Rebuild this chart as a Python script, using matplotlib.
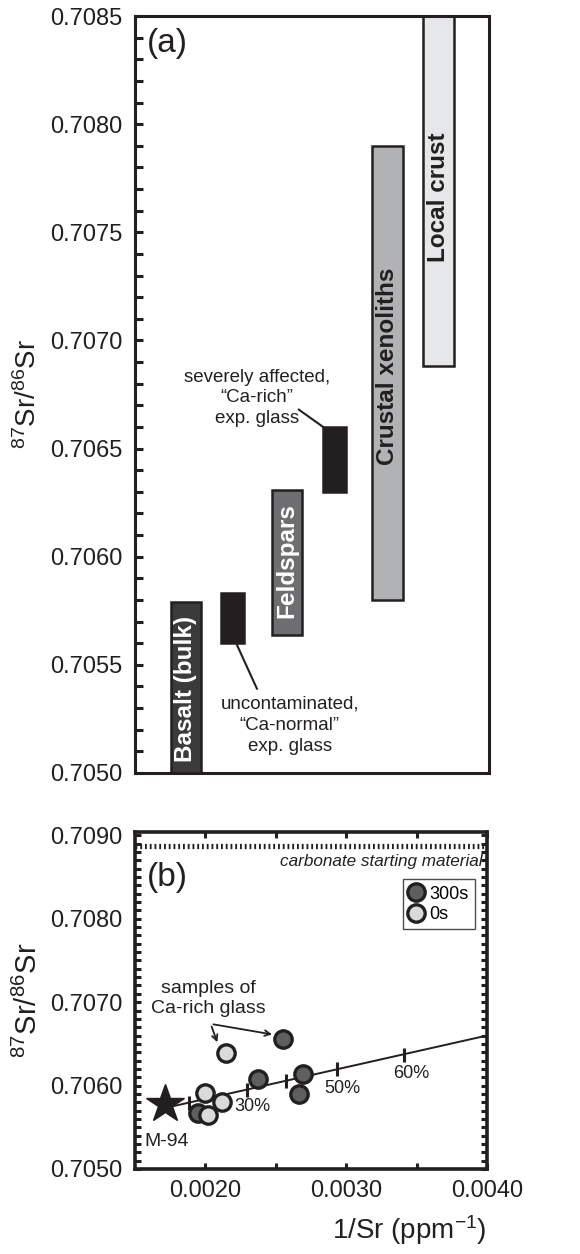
import matplotlib
matplotlib.use('Agg')
import matplotlib.pyplot as plt
from matplotlib.ticker import MultipleLocator, FormatStrFormatter, FixedLocator, FixedFormatter

plt.rcParams['font.family'] = ['Liberation Sans', 'DejaVu Sans']
plt.rcParams['mathtext.fontset'] = 'custom'
plt.rcParams['mathtext.rm'] = 'Liberation Sans'
plt.rcParams['mathtext.it'] = 'Liberation Sans:italic'

# ---- panel (a): Sr isotope ranges ----
bar_names = ['Basalt (bulk)', '', 'Feldspars', '', 'Crustal xenoliths', 'Local crust']
bar_low = [0.70500, 0.70560, 0.70564, 0.70630, 0.70580, 0.70688]
bar_high = [0.70579, 0.70583, 0.70631, 0.70660, 0.70790, 0.70850]
bar_label_y = [0.70539, 0, 0.70598, 0, 0.70688, 0.70766]
bar_colors = ['#3b3b3c', '#231f20', '#6d6e70', '#231f20', '#b1b2b4', '#e6e7e8']
bar_text_colors = ['white', 'white', 'white', 'white', '#231f20', '#231f20']
bar_pos = [1.0, 1.93, 3.0, 3.94, 5.0, 6.0]
bar_width = [0.59, 0.45, 0.59, 0.45, 0.61, 0.61]

# ---- panel (b): 87Sr/86Sr vs 1/Sr ----
x_300s = [0.002552, 0.002375, 0.002694, 0.002666, 0.001945]
y_300s = [0.706556, 0.706076, 0.706140, 0.705896, 0.705668]
x_0s = [0.002146, 0.001997, 0.002115, 0.002020]
y_0s = [0.706388, 0.705908, 0.705808, 0.705648]
m94_x, m94_y = 0.00171, 0.70578
mix_x = [0.00171, 0.00400]
mix_y = [0.70573, 0.70660]
mix_tick_x = [0.001886, 0.002292, 0.002571, 0.002936, 0.003409]
mix_tick_y = [0.705788, 0.705948, 0.706056, 0.706196, 0.706368]
pct_labels = ['30%', '50%', '60%']
pct_x = [0.002333, 0.002973, 0.003463]
pct_y = [0.705748, 0.705968, 0.706148]
carbonate_y = 0.70887

ylab = r'$\mathregular{^{87}}$Sr/$\mathregular{^{86}}$Sr'
ink = '#231f20'

fig = plt.figure(figsize=(5.8, 12.54), dpi=100)

# panel a
ax1 = fig.add_axes([0.2328, 0.3836, 0.6103, 0.6036])
for i in range(len(bar_pos)):
    ax1.bar(bar_pos[i], bar_high[i] - bar_low[i], bottom=bar_low[i], width=bar_width[i],
            color=bar_colors[i], edgecolor=ink, linewidth=1.8, zorder=2)
    if bar_names[i]:
        ax1.text(bar_pos[i], bar_label_y[i], bar_names[i], rotation=90, ha='center', va='center',
                 color=bar_text_colors[i], fontsize=17.5, fontweight='bold', zorder=3)

ax1.set_xlim(0, 7)
ax1.set_ylim(0.7050, 0.7085)
ax1.yaxis.set_major_locator(MultipleLocator(0.0005))
ax1.yaxis.set_minor_locator(MultipleLocator(0.0001))
ax1.yaxis.set_major_formatter(FormatStrFormatter('%.4f'))
ax1.set_xticks([])
ax1.tick_params(axis='y', which='both', direction='in', length=6, width=2.2,
                labelsize=17, pad=9, colors=ink)
for s in ax1.spines.values():
    s.set_linewidth(2.2)
    s.set_color(ink)
ax1.set_ylabel(ylab, fontsize=20, color=ink)
ax1.yaxis.set_label_coords(-0.262, 0.5)
ax1.text(0.034, 0.984, '(a)', transform=ax1.transAxes, fontsize=24, ha='left', va='top',
         color=ink)

ax1.text(2.41, 0.706734, 'severely affected,\n\u201cCa-rich\u201d\nexp. glass', ha='center',
         va='center', fontsize=13.5, linespacing=1.3, color=ink)
ax1.plot([3.24, 3.72], [0.70668, 0.70660], color=ink, lw=1.5)
ax1.text(3.06, 0.70522, 'uncontaminated,\n\u201cCa-normal\u201d\nexp. glass', ha='center',
         va='center', fontsize=13.5, linespacing=1.3, color=ink)
ax1.plot([2.02, 2.41], [0.70559, 0.70539], color=ink, lw=1.5)

# panel b
ax2 = fig.add_axes([0.2328, 0.0678, 0.6069, 0.2687])
ax2.axhline(carbonate_y, color=ink, lw=3.8, linestyle=(0, (0.35, 0.55)), zorder=1)
ax2.text(0.00397, 0.708688, 'carbonate starting material', ha='right', va='center',
         fontsize=12.3, style='italic', color=ink)
ax2.plot(mix_x, mix_y, color=ink, lw=1.4, zorder=2)
ax2.plot(mix_tick_x, mix_tick_y, linestyle='none', marker='|', markersize=10,
         markeredgewidth=2.2, color=ink, zorder=2)
for lab, px, py in zip(pct_labels, pct_x, pct_y):
    ax2.text(px, py, lab, ha='center', va='center', fontsize=13, color=ink)

ax2.plot(x_300s, y_300s, linestyle='none', marker='o', markersize=12.5, markerfacecolor='#5e5f61',
         markeredgecolor=ink, markeredgewidth=2.4, label='300s', zorder=3)
ax2.plot(x_0s, y_0s, linestyle='none', marker='o', markersize=12.5, markerfacecolor='#d9dadb',
         markeredgecolor=ink, markeredgewidth=2.4, label='0s', zorder=4)
ax2.plot(m94_x, m94_y, marker='*', markersize=29, color=ink, zorder=5)
ax2.text(0.001725, 0.705328, 'M-94', ha='center', va='center', fontsize=14, color=ink)

ax2.text(0.00202, 0.70704, 'samples of\nCa-rich glass', ha='center', va='center',
         fontsize=14, linespacing=1.25, color=ink)
ax2.annotate('', xy=(0.002091, 0.706488), xytext=(0.002037, 0.70674),
             arrowprops=dict(arrowstyle='->', color=ink, lw=1.3))
ax2.annotate('', xy=(0.002493, 0.706608), xytext=(0.002037, 0.70674),
             arrowprops=dict(arrowstyle='->', color=ink, lw=1.3))

ax2.set_xlim(0.0015, 0.0040)
ax2.set_ylim(0.7050, 0.70904)
ax2.xaxis.set_major_locator(FixedLocator([0.0020, 0.0030, 0.0040]))
ax2.xaxis.set_major_formatter(FixedFormatter(['0.0020', '0.0030', '0.0040']))
ax2.xaxis.set_minor_locator(FixedLocator([0.0025, 0.0035]))
ax2.yaxis.set_major_locator(MultipleLocator(0.001))
ax2.yaxis.set_minor_locator(MultipleLocator(0.0001))
ax2.yaxis.set_major_formatter(FormatStrFormatter('%.4f'))
ax2.tick_params(which='both', direction='in', top=True, right=True, length=4.5, width=2.2,
                labelsize=17, colors=ink)
ax2.tick_params(axis='y', pad=9)
ax2.tick_params(axis='x', pad=8)
for s in ax2.spines.values():
    s.set_linewidth(2.6)
    s.set_color(ink)
ax2.set_ylabel(ylab, fontsize=21, color=ink)
ax2.yaxis.set_label_coords(-0.262, 0.5)
ax2.set_xlabel(r'1/Sr (ppm$\mathregular{^{-1}}$)', fontsize=20, loc='right', labelpad=8,
               color=ink)
ax2.text(0.034, 0.912, '(b)', transform=ax2.transAxes, fontsize=24, ha='left', va='top',
         color=ink)

leg = ax2.legend(loc='upper right', bbox_to_anchor=(0.965, 0.86), fontsize=13,
                 frameon=True, fancybox=False, handlelength=0.8, handletextpad=0.3,
                 borderpad=0.35, labelspacing=0.2, borderaxespad=0)
leg.get_frame().set_edgecolor(ink)
leg.get_frame().set_linewidth(1)

fig.savefig('out.png', dpi=100)
